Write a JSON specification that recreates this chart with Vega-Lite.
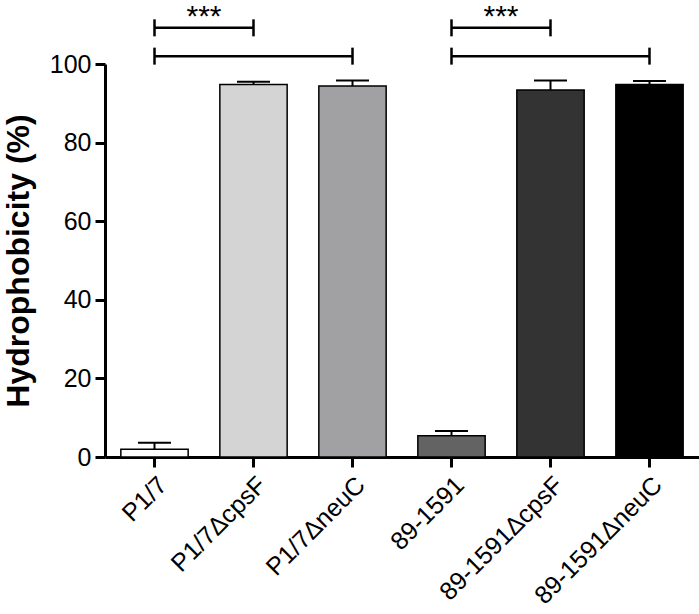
{
  "$schema": "https://vega.github.io/schema/vega-lite/v6.json",
  "width": 594,
  "height": 393,
  "autosize": {"type": "none"},
  "padding": {"left": 105, "top": 64, "right": 0, "bottom": 157},
  "config": {
    "view": {"stroke": null},
    "font": "Liberation Sans",
    "axis": {"domainColor": "black", "tickColor": "black", "labelColor": "black", "titleColor": "black", "grid": false},
    "axisX": {"domainWidth": 3, "tickWidth": 3, "tickSize": 10, "labelAngle": -45, "labelFontSize": 25, "labelPadding": 5, "labelLimit": 0, "title": null},
    "axisY": {"domainWidth": 3, "tickWidth": 3, "tickSize": 10, "labelFontSize": 25, "labelPadding": 4, "titleFontSize": 32, "titleFontWeight": "bold", "titlePadding": 14}
  },
  "datasets": {
    "bars": [
      {"strain": "P1/7", "mean": 2.0, "upper": 3.6},
      {"strain": "P1/7ΔcpsF", "mean": 94.8, "upper": 95.5},
      {"strain": "P1/7ΔneuC", "mean": 94.4, "upper": 95.8},
      {"strain": "89-1591", "mean": 5.4, "upper": 6.6},
      {"strain": "89-1591ΔcpsF", "mean": 93.4, "upper": 95.8},
      {"strain": "89-1591ΔneuC", "mean": 94.8, "upper": 95.7}
    ],
    "brackets": [
      {"from": "P1/7", "to": "P1/7ΔcpsF", "level": 109.2},
      {"from": "P1/7", "to": "P1/7ΔneuC", "level": 102.0},
      {"from": "89-1591", "to": "89-1591ΔcpsF", "level": 109.2},
      {"from": "89-1591", "to": "89-1591ΔneuC", "level": 102.0}
    ],
    "stars": [
      {"strain": "P1/7", "label": "***", "level": 115.8},
      {"strain": "89-1591", "label": "***", "level": 115.8}
    ]
  },
  "layer": [
    {
      "data": {"name": "bars"},
      "mark": {"type": "bar", "stroke": "black", "strokeWidth": 1.5},
      "encoding": {
        "x": {"field": "strain", "type": "nominal", "sort": null,
              "scale": {"domain": ["P1/7", "P1/7ΔcpsF", "P1/7ΔneuC", "89-1591", "89-1591ΔcpsF", "89-1591ΔneuC"], "paddingInner": 0.32, "paddingOuter": 0.16}},
        "y": {"field": "mean", "type": "quantitative", "title": "Hydrophobicity (%)",
              "scale": {"domain": [0, 100], "nice": false},
              "axis": {"values": [0, 20, 40, 60, 80, 100]}},
        "fill": {"field": "strain", "type": "nominal", "legend": null,
                 "scale": {"domain": ["P1/7", "P1/7ΔcpsF", "P1/7ΔneuC", "89-1591", "89-1591ΔcpsF", "89-1591ΔneuC"],
                           "range": ["#ffffff", "#d4d4d4", "#a1a1a4", "#636363", "#333333", "#000000"]}}
      }
    },
    {
      "data": {"name": "bars"},
      "mark": {"type": "rule", "strokeWidth": 2, "color": "black"},
      "encoding": {
        "x": {"field": "strain", "type": "nominal"},
        "y": {"field": "mean", "type": "quantitative"},
        "y2": {"field": "upper"}
      }
    },
    {
      "data": {"name": "bars"},
      "mark": {"type": "tick", "size": 33, "thickness": 2, "color": "black", "opacity": 1},
      "encoding": {
        "x": {"field": "strain", "type": "nominal"},
        "y": {"field": "upper", "type": "quantitative"}
      }
    },
    {
      "data": {"name": "brackets"},
      "mark": {"type": "rule", "strokeWidth": 2.5, "color": "black"},
      "encoding": {
        "x": {"field": "from", "type": "nominal"},
        "x2": {"field": "to"},
        "y": {"field": "level", "type": "quantitative"}
      }
    },
    {
      "data": {"name": "brackets"},
      "transform": [{"fold": ["from", "to"], "as": ["end", "strain"]}],
      "mark": {"type": "tick", "orient": "vertical", "size": 17, "thickness": 2.5, "color": "black", "opacity": 1},
      "encoding": {
        "x": {"field": "strain", "type": "nominal"},
        "y": {"field": "level", "type": "quantitative"}
      }
    },
    {
      "data": {"name": "stars"},
      "mark": {"type": "text", "fontSize": 30, "baseline": "top", "align": "center", "color": "black"},
      "encoding": {
        "x": {"field": "strain", "type": "nominal", "bandPosition": 1.235},
        "y": {"field": "level", "type": "quantitative"},
        "text": {"field": "label"}
      }
    }
  ]
}
